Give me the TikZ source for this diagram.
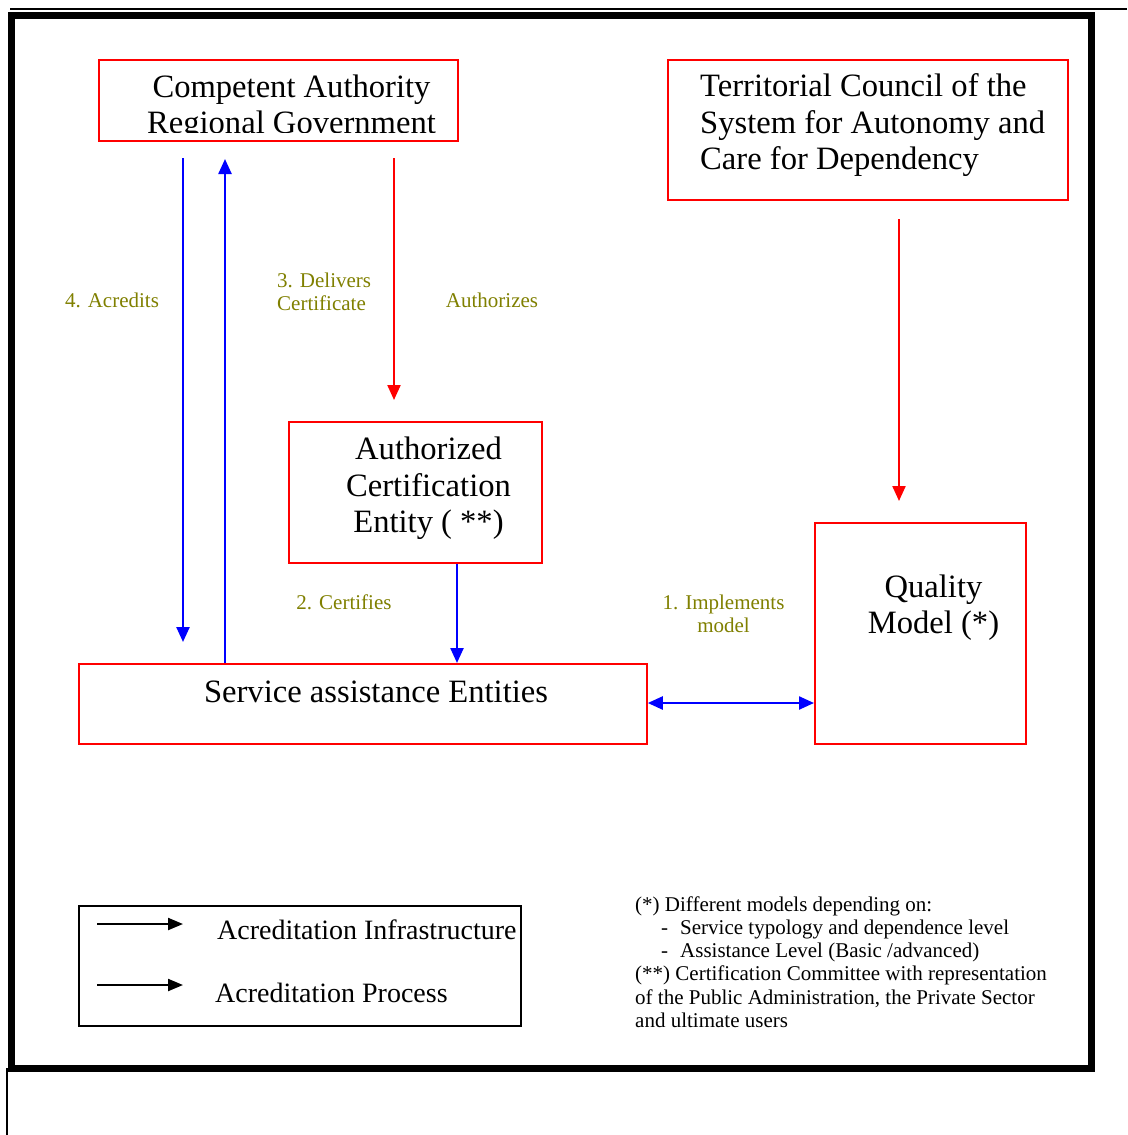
\documentclass[tikz,border=0pt]{standalone}
\usepackage{fontspec}
\setmainfont{Liberation Serif}
\usetikzlibrary{arrows.meta}
\definecolor{lblolive}{RGB}{128,128,0}
\tikzset{
  redbox/.style={draw=red, line width=1.8pt, rectangle, inner sep=0pt, anchor=north west},
  maintext/.style={font=\fontsize{32.6}{36.5}\selectfont, inner sep=0pt},
  lbl/.style={text=lblolive, font=\fontsize{21}{23}\selectfont, inner sep=0pt},
  foottext/.style={font=\fontsize{21}{23.2}\selectfont, inner sep=0pt},
  legtext/.style={font=\fontsize{28}{32}\selectfont, inner sep=0pt, anchor=west},
  bluearr/.style={draw=blue, line width=2.4pt, -{Triangle[length=15pt,width=13pt]}},
  bluedbl/.style={draw=blue, line width=2.4pt, {Triangle[length=15pt,width=13pt]}-{Triangle[length=15pt,width=13pt]}},
  redarr/.style={draw=red, line width=2.2pt, -{Triangle[length=15pt,width=13pt]}},
  legarr/.style={draw=black, line width=2.2pt, -{Triangle[length=15pt,width=12pt]}},
}
\begin{document}
\begin{tikzpicture}[x=1pt, y=-1pt]
\useasboundingbox[fill=white] (0,0) rectangle (1127,1135);
% outer frame
\draw[line width=2pt] (10,9) -- (1127,9);
\draw[line width=6.5pt] (11.5,15.5) rectangle (1091.5,1068.5);
\draw[line width=2pt] (7,1068) -- (7,1135);

% boxes
\node[redbox, minimum width=359pt, minimum height=81pt] (ca) at (98,59) {};
\begin{scope}
  \clip (98,59) rectangle (457,132);
  \node[maintext, align=center] (catext) at (291.5,107.5) {Competent Authority\\Regional Government};
\end{scope}

\node[redbox, minimum width=400pt, minimum height=140pt] (tc) at (667,59) {};
\node[maintext, align=left, anchor=west] (tctext) at (700,125.5) {Territorial Council of the\\System for Autonomy and\\Care for Dependency};

\node[redbox, minimum width=253pt, minimum height=141pt] (ace) at (288,421) {};
\node[maintext, align=center] (acetext) at (428.5,488.5) {Authorized\\Certification\\Entity ( **)};

\node[redbox, minimum width=211pt, minimum height=221pt] (qm) at (814,522) {};
\node[maintext, align=center] (qmtext) at (933.5,607.5) {Quality\\Model (*)};

\node[redbox, minimum width=568pt, minimum height=80pt] (sae) at (78,663) {};
\node[maintext] (saetext) at (376,691.5) {Service assistance Entities};

% connector coordinates
\coordinate (acr1) at (183,158);
\coordinate (acr2) at (183,642);
\coordinate (del2) at (225,159);
\coordinate (aut1) at (394,158);
\coordinate (aut2) at (394,400);
\coordinate (tc1) at (899,219);
\coordinate (tc2) at (899,501);
\coordinate (cert) at (457,562);
\coordinate (impl) at (646,703);

% connectors
\draw[bluearr] (acr1) -- (acr2);
\draw[bluearr] (sae.north -| del2) -- (del2);
\draw[redarr] (aut1) -- (aut2);
\draw[redarr] (tc1) -- (tc2);
\draw[bluearr] (ace.south -| cert) -- (sae.north -| cert);
\draw[bluedbl] (sae.east |- impl) -- (qm.west |- impl);

% labels
\node[lbl] (l4) at (112,300) {4. Acredits};
\node[lbl, align=left, anchor=west] (l3) at (277,292) {3. Delivers\\Certificate};
\node[lbl] (lau) at (492,300) {Authorizes};
\node[lbl] (l2) at (344,602) {2. Certifies};
\node[lbl, align=center] (l1) at (723.5,614) {1. Implements\\model};

% legend
\node[draw=black, line width=1.5pt, minimum width=442pt, minimum height=120pt, anchor=north west, inner sep=0pt] (leg) at (78,905) {};
\coordinate (la1) at (97,924);
\coordinate (la2) at (183,924);
\coordinate (lb1) at (97,985);
\coordinate (lb2) at (183,985);
\draw[legarr] (la1) -- (la2);
\draw[legarr] (lb1) -- (lb2);
\node[legtext] (lt1) at (217,930) {Acreditation Infrastructure};
\node[legtext] (lt2) at (215,993) {Acreditation Process};

% footnote
\node[foottext, align=left, anchor=west] (fn) at (635,962) {(*) Different models depending on:\\
\hspace*{26pt}\makebox[19pt][l]{-}Service typology and dependence level\\
\hspace*{26pt}\makebox[19pt][l]{-}Assistance Level (Basic /advanced)\\
(**) Certification Committee with representation\\
of the Public Administration, the Private Sector\\
and ultimate users};
\end{tikzpicture}
\end{document}
